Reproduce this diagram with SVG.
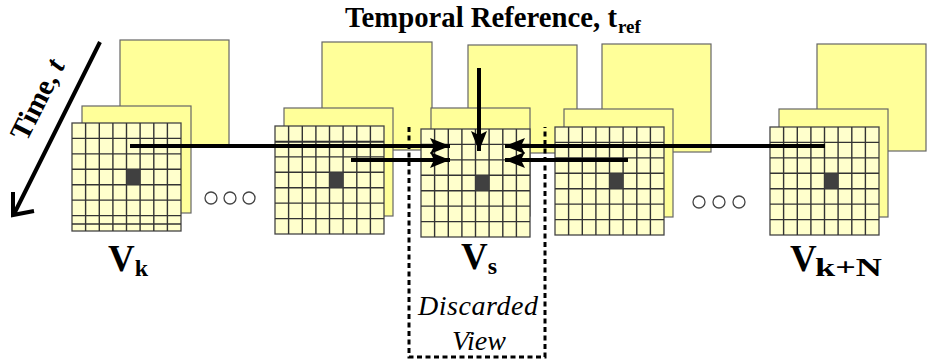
<svg xmlns="http://www.w3.org/2000/svg" xmlns:xlink="http://www.w3.org/1999/xlink" width="927" height="363" viewBox="0 0 927 363">
<style>
.pl{fill:#FFFF99;stroke:#666;stroke-width:1.2}
.gf{fill:#FFFFCC;stroke:#444;stroke-width:1.3}
.gl{stroke:#333;stroke-width:1.4}
.arr{stroke:#000;stroke-width:4;fill:none}
.circ{fill:#fff;stroke:#444;stroke-width:1.3}
.lbl{font-family:"Liberation Serif","Times New Roman",serif;font-weight:bold;fill:#000}
.it{font-family:"Liberation Serif","Times New Roman",serif;font-style:italic;fill:#000}
</style>
<defs>
<marker id="ah" markerUnits="userSpaceOnUse" markerWidth="22" markerHeight="16" refX="20" refY="8" orient="auto">
<path d="M0,0 L20,8 L0,16 L4,8 Z" fill="#000"/>
</marker>
<g id="grid">
<rect width="109" height="108" class="gf"/>
<path class="gl" d="M13.6,0V108M27.3,0V108M40.9,0V108M54.5,0V108M68.1,0V108M81.8,0V108M95.4,0V108M0,15.4H109M0,30.9H109M0,46.3H109M0,61.7H109M0,77.1H109M0,92.6H109"/>
<rect x="54.5" y="46.3" width="13.6" height="15.4" fill="#404040"/>
</g>
</defs>
<rect width="927" height="363" fill="#fff"/>

<g id="title">
<text class="lbl" x="345" y="27" font-size="29" textLength="272" lengthAdjust="spacingAndGlyphs">Temporal Reference, t</text>
<text class="lbl" x="618" y="33" font-size="19">ref</text>
</g>

<g id="time-axis">
<line x1="100" y1="42" x2="14" y2="214" class="arr"/>
<polyline points="13,192 13,215 34,211" class="arr"/>
<text class="lbl" font-size="29" text-anchor="middle" transform="translate(46,104) rotate(-63.3)">Time, <tspan font-style="italic">t</tspan></text>
</g>

<g id="stack-k">
<rect class="pl" x="120" y="40" width="109" height="106"/>
<rect class="pl" x="82" y="106" width="109" height="107"/>
<use xlink:href="#grid" x="72" y="123"/>
<line class="gl" x1="72" y1="224" x2="181" y2="224"/>
<text class="lbl" x="108" y="271" font-size="37">V<tspan font-size="24" dy="5">k</tspan></text>
</g>

<g id="stack-2">
<rect class="pl" x="322" y="42" width="110" height="108"/>
<rect class="pl" x="284" y="108" width="109" height="108"/>
<use xlink:href="#grid" x="275" y="126"/>
<line class="gl" x1="275" y1="142" x2="384" y2="142"/>
</g>

<g id="stack-s">
<rect class="pl" x="468" y="45" width="109" height="108"/>
<rect class="pl" x="431" y="108" width="99" height="108"/>
<use xlink:href="#grid" x="421" y="129"/>
<text class="lbl" x="461" y="269" font-size="37">V<tspan font-size="24" dy="5">s</tspan></text>
</g>

<g id="stack-4">
<rect class="pl" x="602" y="44" width="109" height="108"/>
<rect class="pl" x="564" y="109" width="109" height="108"/>
<use xlink:href="#grid" x="555" y="127"/>
</g>

<g id="stack-kN">
<rect class="pl" x="817" y="44" width="109" height="107"/>
<rect class="pl" x="779" y="109" width="109" height="108"/>
<use xlink:href="#grid" x="770" y="127"/>
<text class="lbl" x="790" y="271" font-size="37">V</text>
<text class="lbl" x="815" y="276" font-size="25" textLength="67" lengthAdjust="spacingAndGlyphs">k+N</text>
</g>

<g id="ellipsis-1">
<circle class="circ" cx="211" cy="198" r="6"/>
<circle class="circ" cx="230" cy="198" r="6"/>
<circle class="circ" cx="249" cy="198" r="6"/>
</g>
<g id="ellipsis-2">
<circle class="circ" cx="699" cy="202" r="6"/>
<circle class="circ" cx="719" cy="202" r="6"/>
<circle class="circ" cx="739" cy="202" r="6"/>
</g>

<g id="connectors">
<line class="arr" x1="130" y1="146" x2="450" y2="146" marker-end="url(#ah)"/>
<line class="arr" x1="351" y1="160" x2="450" y2="160" marker-end="url(#ah)"/>
<line class="arr" x1="479" y1="68" x2="479" y2="151" marker-end="url(#ah)"/>
<line class="arr" x1="825" y1="146" x2="505" y2="146" marker-end="url(#ah)"/>
<line class="arr" x1="628" y1="160" x2="505" y2="160" marker-end="url(#ah)"/>
</g>

<g id="discarded-view">
<path d="M409,127 V357 H545 V127" fill="none" stroke="#000" stroke-width="3" stroke-dasharray="5 3.5"/>
<text class="it" x="478" y="315" font-size="28" text-anchor="middle" textLength="120" lengthAdjust="spacing">Discarded</text>
<text class="it" x="479" y="350" font-size="28" text-anchor="middle">View</text>
</g>
</svg>
